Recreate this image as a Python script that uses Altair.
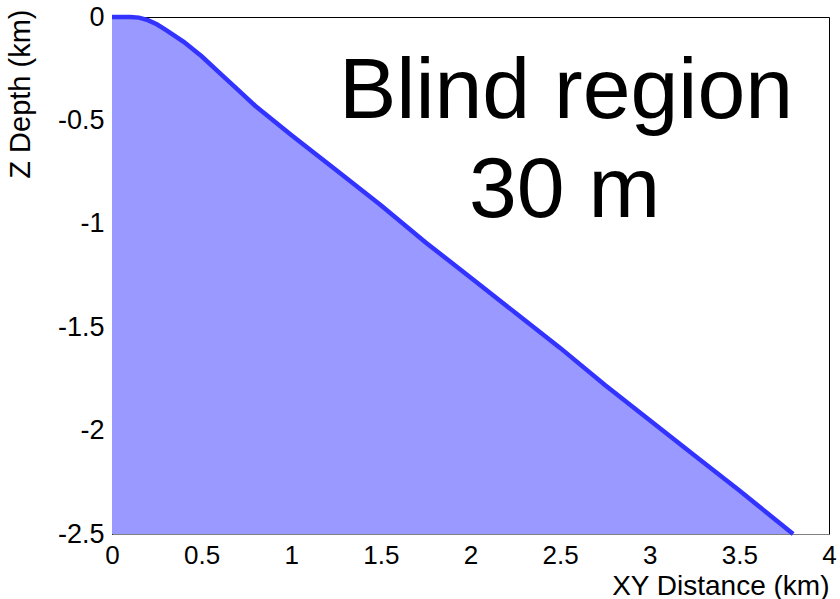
import altair as alt
import pandas as pd

# Curve of the blind-region boundary (XY distance km, Z depth km)
xy_km = [0.0, 0.05, 0.10, 0.15, 0.20, 0.25, 0.30, 0.40, 0.50, 0.60, 0.70, 0.80,
         1.00, 1.25, 1.50, 1.75, 2.00, 2.25, 2.50, 2.75, 3.00, 3.25, 3.50, 3.80]
z_km = [0.0, 0.0, 0.0, -0.003, -0.015, -0.035, -0.062, -0.12, -0.19, -0.27, -0.35, -0.43,
        -0.57, -0.74, -0.91, -1.09, -1.26, -1.43, -1.60, -1.78, -1.95, -2.12, -2.29, -2.50]
z_floor = -2.5

x_ticks = [0, 0.5, 1, 1.5, 2, 2.5, 3, 3.5, 4]
y_ticks = [0, -0.5, -1, -1.5, -2, -2.5]

label_lines = ["Blind region", "30 m"]

df = pd.DataFrame({"x": xy_km, "z": z_km, "floor": [z_floor] * len(xy_km)})

FONT = "Liberation Sans"

xscale = alt.Scale(domain=[0, 4], nice=False, zero=False)
yscale = alt.Scale(domain=[-2.5, 0], nice=False, zero=False)

xaxis = alt.Axis(values=x_ticks, labelExpr="datum.value + ''", title="XY Distance (km)",
                 titleAnchor="end", titleFontSize=28, titleFont=FONT, titleFontWeight="normal",
                 titleColor="black", titlePadding=4,
                 labelFontSize=26, labelFont=FONT, labelColor="black", labelPadding=8,
                 ticks=False, grid=False, domainColor="#808080", labelFlush=False)
yaxis = alt.Axis(values=y_ticks, labelExpr="datum.value + ''", title="Z Depth (km)",
                 titleAnchor="end", titleFontSize=29, titleFont=FONT, titleFontWeight="normal",
                 titleColor="black", titlePadding=22, titleY=-8,
                 labelFontSize=27, labelFont=FONT, labelColor="black", labelPadding=8,
                 ticks=False, grid=False, domainColor="black", labelFlush=False)

area = alt.Chart(df).mark_area(color="#9999ff", opacity=1).encode(
    x=alt.X("x:Q", scale=xscale, axis=xaxis),
    y=alt.Y("z:Q", scale=yscale, axis=yaxis),
    y2="floor:Q",
)

line = alt.Chart(df).mark_line(color="#3333ff", strokeWidth=4.5).encode(
    x="x:Q", y="z:Q"
)

text1 = alt.Chart(pd.DataFrame({"t": [label_lines[0]]})).mark_text(
    font=FONT, fontSize=86, color="black", align="center", baseline="alphabetic"
).encode(x=alt.datum(2.533), y=alt.datum(-0.488), text="t:N")

text2 = alt.Chart(pd.DataFrame({"t": [label_lines[1]]})).mark_text(
    font=FONT, fontSize=86, color="black", align="center", baseline="alphabetic"
).encode(x=alt.datum(2.525), y=alt.datum(-0.967), text="t:N")

chart = alt.layer(area, line, text1, text2).properties(
    width=717, height=517,
    padding={"left": 112, "top": 17, "right": 11, "bottom": 65},
    autosize=alt.AutoSizeParams(type="none"),
    background="white",
).configure_view(stroke="black", strokeWidth=1)

chart.save("out.html", embed_options={"renderer": "svg", "actions": False})
